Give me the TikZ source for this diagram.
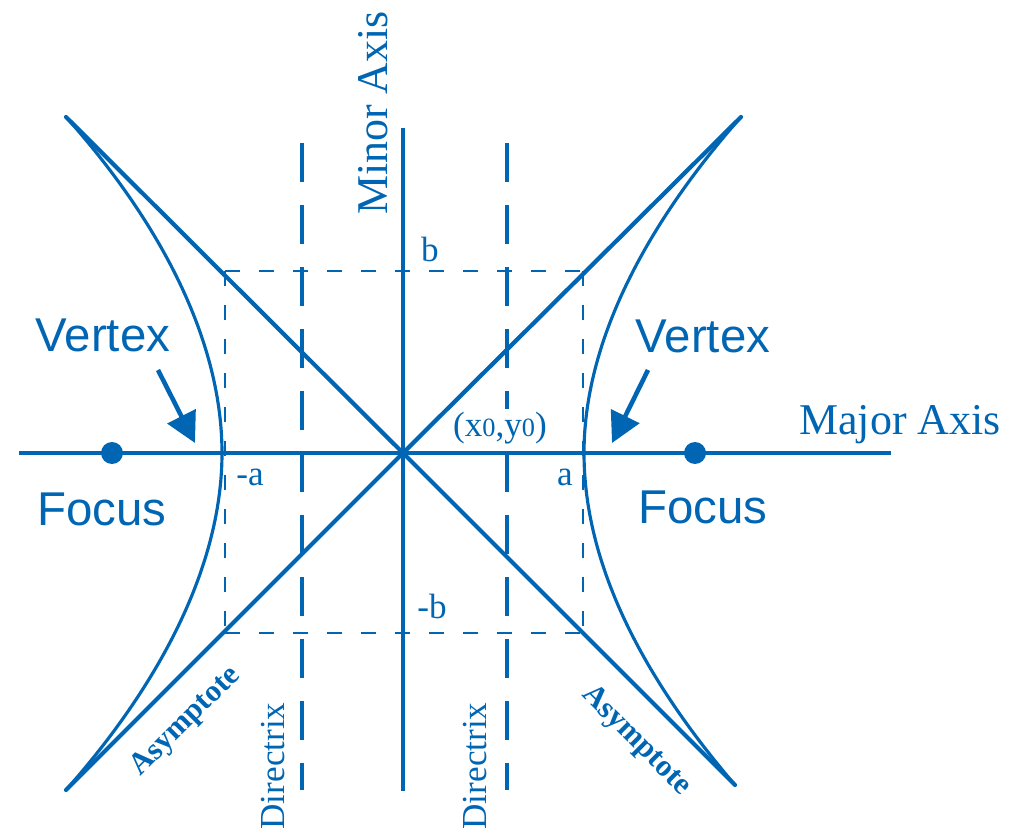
\documentclass[tikz,border=0pt]{standalone}
\usepackage{fontspec}
\setmainfont{Liberation Serif}
\newfontfamily\sansf{Liberation Sans}
\usetikzlibrary{arrows.meta}
\definecolor{hb}{RGB}{0,102,179}
\begin{document}
\begin{tikzpicture}[x=0.02cm,y=-0.02cm,
  axisline/.style={hb,line width=2.2pt},
  asymline/.style={hb,line width=2.4pt,line cap=round},
  hypline/.style={hb,line width=1.8pt},
  dirline/.style={hb,line width=2.2pt,dash pattern=on 0.78cm off 0.46cm},
  boxline/.style={hb,line width=1.1pt,dash pattern=on 0.3cm off 0.38cm},
  sanslbl/.style={text=hb,font=\sansf\fontsize{27}{32}\selectfont,inner sep=0pt},
  axlbl/.style={text=hb,font=\fontsize{25}{30}\selectfont,inner sep=0pt},
  smlbl/.style={text=hb,font=\fontsize{20}{24}\selectfont,inner sep=0pt},
  dirlbl/.style={text=hb,font=\fontsize{20}{24}\selectfont,inner sep=0pt},
  aslbl/.style={text=hb,font=\bfseries\fontsize{17.5}{21}\selectfont,inner sep=0pt},
  vtxarrow/.style={hb,line width=2.6pt,-{Triangle[length=0.6cm,width=0.62cm]}},
  focusdot/.style={circle,fill=hb,minimum size=0.44cm,inner sep=0pt}
]
\useasboundingbox (0,0) rectangle (1010,837);
% key coordinates
\coordinate (O) at (403,453);
\coordinate (MajL) at (19,453);
\coordinate (MajR) at (891,453);
\coordinate (MinT) at (403,128);
\coordinate (MinB) at (403,791);
\coordinate (ATL) at (66,117);
\coordinate (ATR) at (741,117);
\coordinate (ABL) at (66,790);
\coordinate (ABR) at (735,785);
\coordinate (BTL) at (225,271);
\coordinate (BTR) at (583,271);
\coordinate (BBR) at (583,633);
\coordinate (BBL) at (225,633);
\coordinate (DLT) at (302,143);
\coordinate (DLB) at (302,790);
\coordinate (DRT) at (507,143);
\coordinate (DRB) at (507,790);
\coordinate (VL) at (222,453);
\coordinate (VR) at (584,453);
% box
\draw[boxline] (BTL) -- (BTR);
\draw[boxline] (BBL) -- (BBR);
\draw[boxline] (BTL) -- (BBL);
\draw[boxline] (BTR) -- (BBR);
% directrices
\draw[dirline] (DLT) -- (DLB);
\draw[dirline] (DRT) -- (DRB);
% axes
\draw[axisline] (MajL) -- (MajR);
\draw[axisline] (MinT) -- (MinB);
% asymptotes
\draw[asymline] (ATL) -- (O) -- (ABR);
\draw[asymline] (ATR) -- (O) -- (ABL);
% hyperbola branches
\draw[hypline] (ATL) .. controls (152,213) and (222,333) .. (VL) .. controls (222,573) and (152,693) .. (ABL);
\draw[hypline] (ATR) .. controls (656,213) and (584,333) .. (VR) .. controls (584,573) and (652,688) .. (ABR);
% foci
\node[focusdot] (FL) at (112,453) {};
\node[focusdot] (FR) at (695,453) {};
% vertex arrows
\coordinate (LTail) at (158,370);
\coordinate (LTip) at (195,443);
\coordinate (RTail) at (648,370);
\coordinate (RTip) at (612,443);
\draw[vtxarrow] (LTail) -- (LTip);
\draw[vtxarrow] (RTail) -- (RTip);
% labels
\node[sanslbl,anchor=base] (VtxL) at (103,352) {Vertex};
\node[sanslbl,anchor=base] (VtxR) at (703,353) {Vertex};
\node[sanslbl,anchor=base] (FocL) at (102,525) {Focus};
\node[sanslbl,anchor=base] (FocR) at (703,523) {Focus};
\node[axlbl,anchor=base] (MajLbl) at (900,435) {Major Axis};
\node[axlbl,anchor=base,rotate=90] (MinLbl) at (387,113) {Minor Axis};
\node[dirlbl,anchor=base,rotate=90] (DirL) at (284,766) {Directrix};
\node[dirlbl,anchor=base,rotate=90] (DirR) at (486,766) {Directrix};
\node[aslbl,rotate=45] (AsL) at (186,722) {Asymptote};
\node[aslbl,rotate=-45] (AsR) at (636,741) {Asymptote};
\node[smlbl,anchor=base] (LblB) at (430,262) {b};
\node[smlbl,anchor=base] (LblNB) at (432,618) {-b};
\node[smlbl,anchor=base] (LblNA) at (250,485) {-a};
\node[smlbl,anchor=base] (LblA) at (565,485) {a};
\node[smlbl,anchor=base,fill=white,inner ysep=2pt,inner xsep=1pt] (LblC) at (500,437) {(x{\fontsize{15}{18}\selectfont 0},y{\fontsize{15}{18}\selectfont 0})};
\end{tikzpicture}
\end{document}
